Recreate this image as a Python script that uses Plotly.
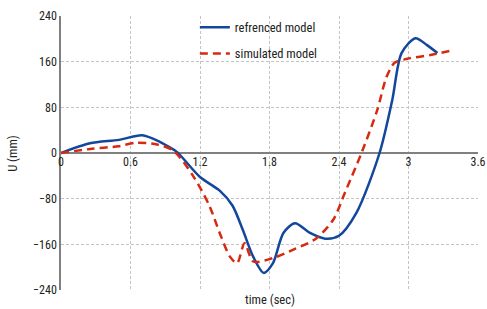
import plotly.graph_objects as go

# Referenced model
time_ref = [0, 0.25, 0.5, 0.7, 0.85, 0.92, 1.0, 1.2, 1.37, 1.48, 1.57, 1.66, 1.75, 1.83, 1.92, 2.02,
            2.15, 2.28, 2.4, 2.55, 2.75, 2.86, 2.94, 3.06, 3.16, 3.25]
u_ref = [0, 17, 23, 31, 20, 12, 2, -42, -66, -92, -135, -182, -210, -193, -140, -123,
         -140, -150, -145, -105, 0, 93, 175, 201, 189, 175]

# Simulated model
time_sim = [0, 0.25, 0.5, 0.65, 0.83, 0.97, 1.14, 1.28, 1.37, 1.46, 1.52, 1.585, 1.66, 1.83,
            2.02, 2.2, 2.35, 2.45, 2.6, 2.73, 2.81, 2.88, 2.99, 3.2, 3.38]
u_sim = [0, 7, 12, 18, 15, 4, -40, -92, -140, -182, -193, -158, -190, -184,
         -168, -150, -117, -70, 3, 75, 133, 158, 165, 172, 180]

x_ticks = [0, 0.6, 1.2, 1.8, 2.4, 3, 3.6]
y_ticks = [-240, -160, -80, 0, 80, 160, 240]

FONT = "Liberation Sans Narrow, Arial Narrow, Roboto Condensed, Liberation Sans, sans-serif"

fig = go.Figure()
fig.add_trace(go.Scatter(x=time_ref, y=u_ref, mode="lines", name="refrenced model",
                         line=dict(color="#12479B", width=2.5, shape="spline", smoothing=0.8),
                         legendgroup="a"))
fig.add_trace(go.Scatter(x=time_sim, y=u_sim, mode="lines", name="simulated model",
                         line=dict(color="#D62A10", width=2.5, dash="8px,5px", shape="spline", smoothing=0.8),
                         legendgroup="b"))

fig.update_layout(
    width=487, height=309,
    margin=dict(l=61, r=9, t=16, b=19, autoexpand=False),
    paper_bgcolor="white", plot_bgcolor="white",
    font=dict(family=FONT, size=12, color="#222222"),
    showlegend=True,
    legend=dict(x=0.321, y=1.012, xanchor="left", yanchor="top", bgcolor="rgba(0,0,0,0)",
                traceorder="grouped", tracegroupgap=7, font=dict(size=12.5)),
    xaxis=dict(range=[0, 3.6], tickvals=x_ticks, ticktext=[str(v) for v in x_ticks],
               showgrid=True, gridcolor="#c4c4c4", griddash="3px,2px", gridwidth=1,
               zeroline=False, showline=False, ticks="", automargin=False,
               anchor="free", position=0.5, ticklabelstandoff=0),
    yaxis=dict(range=[-240, 240], tickvals=y_ticks, automargin=False,
               showgrid=True, gridcolor="#c4c4c4", griddash="3px,2px", gridwidth=1,
               zeroline=True, zerolinecolor="#808080", zerolinewidth=2,
               showline=True, linecolor="#808080", linewidth=1.5, ticks=""),
    annotations=[
        dict(text="time (sec)", xref="paper", yref="paper", x=0.5, y=-0.035,
             xanchor="center", yanchor="middle", showarrow=False, font=dict(size=12.5)),
        dict(text="U (mm)", xref="paper", yref="paper", x=-0.118, y=0.5, textangle=-90,
             xanchor="center", yanchor="middle", showarrow=False, font=dict(size=12.5)),
    ],
)

fig.write_html("out.html", config={"displayModeBar": False},
               post_script="document.body.style.margin='0px';")
